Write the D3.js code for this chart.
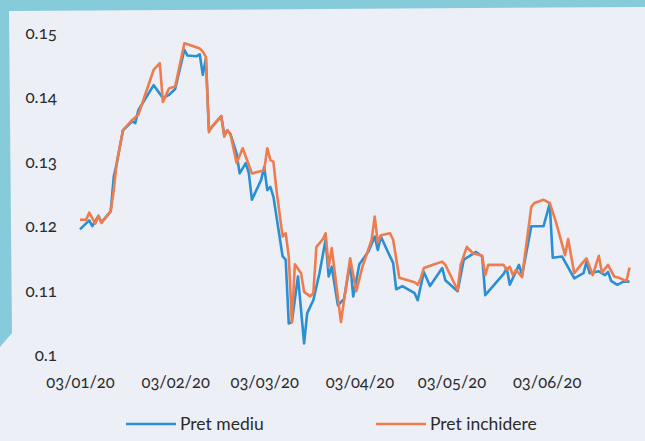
<!DOCTYPE html>
<html>
<head>
<meta charset="utf-8">
<script src="https://cdn.jsdelivr.net/npm/d3@7"></script>
<style>
  html, body { margin: 0; padding: 0; background: #86cbd9; }
  svg { display: block; font-family: Lato, 'Open Sans', sans-serif; }
  text { font-variant-numeric: oldstyle-nums; }
</style>
</head>
<body>
<svg width="645" height="441"></svg>
<script>
// days counted from 03/01/20
const mediuDays = [0,3,4,6,7,10,11,12,14,17,18,19,24,27,29,31,34,35,38,39,
  40,41,42,43,46,47,48,49,51,52,54,55,56,59,60,61,62,63,66,67,
  68,69,71,73,74,76,78,80,81,82,84,86,88,89,91,94,96,97,98,100,
  102,103,105,109,110,112,114,118,119,123,125,129,131,132,138,139,140,143,144,147,
  151,153,154,157,161,164,165,166,169,171,172,173,175,177,179];
const mediuValues = [0.1195,0.1209,0.1200,0.1216,0.1206,0.1223,0.1277,0.1298,0.1349,0.1363,
  0.1360,0.1380,0.1419,0.1399,0.1404,0.1413,0.1474,0.1465,0.1464,0.1467,
  0.1435,0.1460,0.1349,0.1354,0.1371,0.1342,0.1349,0.1343,0.1313,0.1282,
  0.1298,0.1282,0.1241,0.1272,0.1292,0.1256,0.1261,0.1246,0.1153,0.1148,
  0.1049,0.1051,0.1122,0.1018,0.1065,0.1085,0.1127,0.1179,0.1122,0.1137,
  0.1077,0.1087,0.1143,0.1091,0.1141,0.1161,0.1184,0.1163,0.1184,0.1163,
  0.1143,0.1102,0.1107,0.1096,0.1085,0.1129,0.1107,0.1135,0.1116,0.1099,
  0.1148,0.1160,0.1153,0.1093,0.1126,0.1135,0.1109,0.1140,0.1124,0.1200,
  0.1200,0.1235,0.1151,0.1153,0.1119,0.1127,0.1145,0.1127,0.1130,0.1124,
  0.1129,0.1115,0.1109,0.1114,0.1114];

const inchDays = [0,2,3,5,6,7,10,11,12,14,17,19,24,26,27,29,31,34,36,39,
  40,41,42,43,46,47,48,49,51,53,55,56,60,61,62,63,64,66,67,68,
  69,70,72,73,75,76,77,79,80,81,82,85,86,88,90,92,95,96,97,98,
  101,102,104,109,110,111,112,115,118,119,123,124,126,128,131,132,133,138,139,140,
  141,142,144,146,147,148,151,153,155,158,159,161,164,165,167,169,170,172,174,176,
  178,179];
const inchValues = [0.1210,0.1210,0.1221,0.1204,0.1216,0.1205,0.1223,0.1256,0.1300,0.1349,
  0.1365,0.1373,0.1443,0.1453,0.1393,0.1414,0.1417,0.1484,0.1481,0.1476,
  0.1471,0.1463,0.1346,0.1355,0.1371,0.1339,0.1349,0.1343,0.1298,0.1321,
  0.1295,0.1282,0.1287,0.1321,0.1303,0.1300,0.1256,0.1184,0.1189,0.1153,
  0.1051,0.1141,0.1127,0.1098,0.1091,0.1096,0.1168,0.1179,0.1189,0.1137,
  0.1166,0.1051,0.1085,0.1150,0.1099,0.1137,0.1179,0.1215,0.1175,0.1186,
  0.1189,0.1179,0.1120,0.1113,0.1109,0.1119,0.1135,0.1140,0.1145,0.1140,
  0.1101,0.1140,0.1168,0.1158,0.1154,0.1124,0.1140,0.1140,0.1132,0.1137,
  0.1124,0.1132,0.1121,0.1194,0.1230,0.1236,0.1241,0.1236,0.1207,0.1155,
  0.1180,0.1127,0.1145,0.1150,0.1124,0.1154,0.1128,0.1140,0.1122,0.1119,
  0.1115,0.1136];

const xTicks = ['2020-01-03','2020-02-03','2020-03-03','2020-04-03','2020-05-03','2020-06-03'];
const yTicks = [0.1, 0.11, 0.12, 0.13, 0.14, 0.15];
const yTickLabels = ['0.1','0.11','0.12','0.13','0.14','0.15'];
const seriesNames = ['Pret mediu', 'Pret inchidere'];
const seriesColors = ['#2b8fd4', '#ee7c4c'];

const svg = d3.select('svg');
const start = new Date(2020, 0, 3);
const parse = d3.timeParse('%Y-%m-%d');

// scanned page: paper panel over the cyan cover
svg.append('path')
  .attr('d', 'M9,11 L645,7 L645,441 L0,441 L0,347 L12,333 Z')
  .attr('fill', '#edeff7');

const x = d3.scaleTime()
  .domain([start, d3.timeDay.offset(start, 180)])
  .range([80, 80 + 180 * 3.07]);
const y = d3.scaleLinear().domain([0.1, 0.15]).range([355, 33]);

const toPoints = (days, vals) => days.map((d, i) => ({ date: d3.timeDay.offset(start, d), value: vals[i] }));
const series = [toPoints(mediuDays, mediuValues), toPoints(inchDays, inchValues)];

// axes
const yAxis = svg.append('g')
  .attr('transform', 'translate(57,0)')
  .call(d3.axisLeft(y).tickValues(yTicks).tickSize(0).tickPadding(0)
    .tickFormat((d, i) => yTickLabels[i]));
yAxis.select('.domain').remove();
yAxis.selectAll('text').attr('font-size', '17px').attr('fill', '#2b2b2b')
  .attr('font-family', 'Lato, sans-serif');

const xAxis = svg.append('g')
  .attr('transform', 'translate(0,370)')
  .call(d3.axisBottom(x).tickValues(xTicks.map(parse)).tickSize(0).tickPadding(6)
    .tickFormat(d3.timeFormat('%d/%m/%y')));
xAxis.select('.domain').remove();
xAxis.selectAll('text').attr('font-size', '16.5px').attr('fill', '#2b2b2b')
  .attr('font-family', 'Lato, sans-serif');

// lines
const line = d3.line()
  .x((d) => x(d.date))
  .y((d) => y(d.value));

series.forEach((s, i) => {
  svg.append('path')
    .datum(s)
    .attr('fill', 'none')
    .attr('stroke', seriesColors[i])
    .attr('stroke-width', 2.6)
    .attr('stroke-linejoin', 'round')
    .attr('d', line);
});

// legend
const legendX = [126, 376];
seriesNames.forEach((name, i) => {
  const g = svg.append('g').attr('transform', `translate(${legendX[i]},424)`);
  g.append('line')
    .attr('x1', 0).attr('x2', 50)
    .attr('stroke', seriesColors[i])
    .attr('stroke-width', 2.6);
  g.append('text')
    .attr('x', 54)
    .attr('dy', '0.35em')
    .attr('font-size', '17.5px')
    .attr('fill', '#2b2b2b')
    .text(name);
});
</script>
</body>
</html>
